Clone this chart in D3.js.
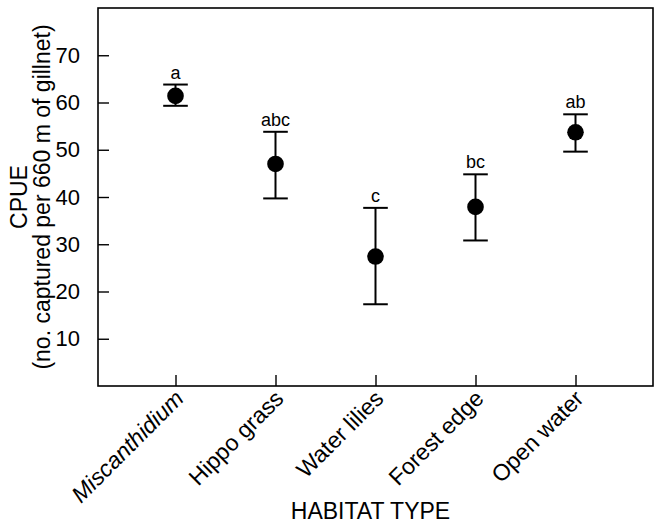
<!DOCTYPE html>
<html>
<head>
<meta charset="utf-8">
<script src="https://cdn.jsdelivr.net/npm/d3@7"></script>
<style>
  html, body { margin: 0; padding: 0; background: #fff; }
  text { font-family: "Liberation Sans", Arial, Helvetica, sans-serif; fill: #000; }
</style>
</head>
<body>
<svg id="chart" width="657" height="525"></svg>
<script>
const categories = ["Miscanthidium", "Hippo grass", "Water lilies", "Forest edge", "Open water"];
const means = [61.4, 47.0, 27.4, 37.9, 53.7];
const upper = [63.8, 53.8, 37.7, 44.8, 57.5];
const lower = [59.3, 39.7, 17.3, 30.8, 49.6];
const groupLetters = ["a", "abc", "c", "bc", "ab"];
const yTicks = [10, 20, 30, 40, 50, 60, 70];
const yTitleLines = ["CPUE", "(no. captured per 660 m of gillnet)"];
const xTitle = "HABITAT TYPE";

const svg = d3.select("#chart");
const L = 98, R = 653, T = 8, B = 386;

const x = d3.scalePoint().domain(categories).range([L, R]).padding(0.775);
const y = d3.scaleLinear().domain([0, 80]).range([B, T]);

// frame
svg.append("rect").attr("x", L).attr("y", T).attr("width", R - L).attr("height", B - T)
  .attr("fill", "none").attr("stroke", "#000").attr("stroke-width", 1.6);

// y axis
const yAxis = svg.append("g").attr("transform", `translate(${L},0)`)
  .call(d3.axisLeft(y).tickValues(yTicks).tickSizeInner(-11).tickSizeOuter(0).tickPadding(18));
yAxis.select(".domain").remove();
yAxis.selectAll(".tick line").attr("stroke", "#000").attr("stroke-width", 1.4);
yAxis.selectAll(".tick text").attr("font-size", 22).attr("font-family", "Liberation Sans, Arial, sans-serif");

// x axis
const xAxis = svg.append("g").attr("transform", `translate(0,${B})`)
  .call(d3.axisBottom(x).tickSizeInner(-11).tickSizeOuter(0).tickPadding(0));
xAxis.select(".domain").remove();
xAxis.selectAll(".tick line").attr("stroke", "#000").attr("stroke-width", 1.4);
xAxis.selectAll(".tick text")
  .attr("font-size", 23)
  .attr("font-family", "Liberation Sans, Arial, sans-serif")
  .attr("text-anchor", "end")
  .attr("dy", 0)
  .attr("transform", "translate(9,14) rotate(-45)")
  .attr("x", 0).attr("y", 0)
  .style("font-style", d => d === "Miscanthidium" ? "italic" : "normal");

// error bars
const idx = d3.range(categories.length);
const cap = 12.3;
const g = svg.append("g");
g.selectAll("line.v").data(idx).join("line").attr("class", "v")
  .attr("x1", i => x(categories[i])).attr("x2", i => x(categories[i]))
  .attr("y1", i => y(upper[i])).attr("y2", i => y(lower[i]))
  .attr("stroke", "#000").attr("stroke-width", 2);
g.selectAll("line.ct").data(idx).join("line").attr("class", "ct")
  .attr("x1", i => x(categories[i]) - cap).attr("x2", i => x(categories[i]) + cap)
  .attr("y1", i => y(upper[i])).attr("y2", i => y(upper[i]))
  .attr("stroke", "#000").attr("stroke-width", 2);
g.selectAll("line.cb").data(idx).join("line").attr("class", "cb")
  .attr("x1", i => x(categories[i]) - cap).attr("x2", i => x(categories[i]) + cap)
  .attr("y1", i => y(lower[i])).attr("y2", i => y(lower[i]))
  .attr("stroke", "#000").attr("stroke-width", 2);
g.selectAll("circle").data(idx).join("circle")
  .attr("cx", i => x(categories[i])).attr("cy", i => y(means[i])).attr("r", 8.3)
  .attr("fill", "#000");
g.selectAll("text.grp").data(idx).join("text").attr("class", "grp")
  .attr("x", i => x(categories[i])).attr("y", i => y(upper[i]) - 6)
  .attr("text-anchor", "middle").attr("font-size", 18)
  .text(i => groupLetters[i]);

// y title
const cy = (T + B) / 2;
svg.append("text").attr("transform", `translate(27,${cy}) rotate(-90)`)
  .attr("text-anchor", "middle").attr("font-size", 23).text(yTitleLines[0]);
svg.append("text").attr("transform", `translate(50,${cy}) rotate(-90)`)
  .attr("text-anchor", "middle").attr("font-size", 23).text(yTitleLines[1]);

// x title
svg.append("text").attr("x", (L + R) / 2 - 5).attr("y", 519)
  .attr("text-anchor", "middle").attr("font-size", 23).text(xTitle);
</script>
</body>
</html>
